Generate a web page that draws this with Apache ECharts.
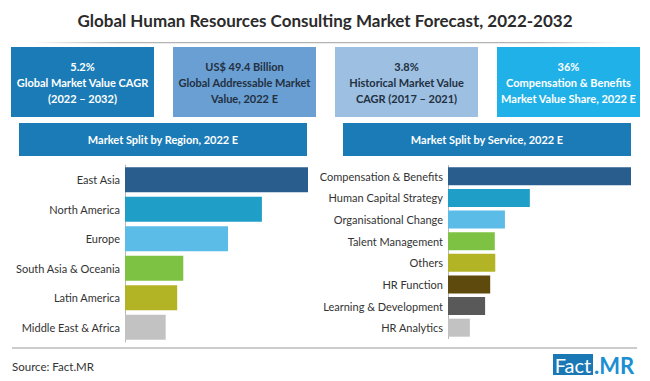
<!DOCTYPE html>
<html>
<head>
<meta charset="utf-8">
<script src="https://cdn.jsdelivr.net/npm/echarts@6/dist/echarts.min.js"></script>
<style>
html,body{margin:0;padding:0;background:#fff;}
#chart{width:650px;height:381px;}
</style>
</head>
<body>
<div id="chart"></div>
<script>
const chartTitle = 'Global Human Resources Consulting Market Forecast, 2022-2032';
const kpiTexts = [
  '5.2%\nGlobal Market Value CAGR\n(2022 – 2032)',
  'US$ 49.4 Billion\nGlobal Addressable Market\nValue, 2022 E',
  '3.8%\nHistorical Market Value\nCAGR (2017 – 2021)',
  '36%\nCompensation & Benefits\nMarket Value Share, 2022 E'
];
const panelTitles = ['Market Split by Region, 2022 E', 'Market Split by Service, 2022 E'];
const regionCategories = ['East Asia', 'North America', 'Europe', 'South Asia & Oceania', 'Latin America', 'Middle East & Africa'];
const regionValues = [27.0, 20.2, 15.2, 8.6, 7.7, 6.0];
const serviceCategories = ['Compensation & Benefits', 'Human Capital Strategy', 'Organisational Change', 'Talent Management', 'Others', 'HR Function', 'Learning & Development', 'HR Analytics'];
const serviceValues = [36.0, 16.1, 11.2, 9.2, 9.3, 8.3, 7.3, 4.3];
const sourceText = 'Source: Fact.MR';

const regionColors = ['#285d8e', '#1f9fc7', '#5bbce8', '#7dc243', '#b3b326', '#c2c2c2'];
const serviceColors = ['#285d8e', '#1f9fc7', '#5bbce8', '#7dc243', '#b3b326', '#5e4a0c', '#595959', '#c2c2c2'];
const kpiFill = ['#1a7bb6', '#6a9fd3', '#9dbfe2', '#1fb1e8'];
const kpiTextColor = ['#ffffff', '#22303f', '#22303f', '#ffffff'];

const chart = echarts.init(document.getElementById('chart'), null, {renderer: 'svg'});

const FONT = 'Lato, "Open Sans", sans-serif';
const graphics = [];
graphics.push({type: 'text', left: 'center', top: 12, style: {text: chartTitle, font: 'bold 17px ' + FONT, fill: '#2b2b2b'}});
graphics.push({type: 'rect', shape: {x: 30, y: 42, width: 590, height: 1.2},
  style: {fill: new echarts.graphic.LinearGradient(0, 0, 1, 0, [
    {offset: 0, color: 'rgba(160,160,160,0)'},
    {offset: 0.15, color: 'rgba(160,160,160,0.8)'},
    {offset: 0.85, color: 'rgba(160,160,160,0.8)'},
    {offset: 1, color: 'rgba(160,160,160,0)'}])}});
const kpiX = [11, 173, 335, 497];
kpiX.forEach((x, i) => {
  graphics.push({type: 'rect', shape: {x: x, y: 47, width: 143, height: 70}, style: {fill: kpiFill[i]}});
  graphics.push({type: 'text', x: x + 71.5, y: 82, style: {text: kpiTexts[i], font: 'bold 11px ' + FONT, fill: kpiTextColor[i], align: 'center', verticalAlign: 'middle', lineHeight: 16}});
});
[[19, 288], [343, 288]].forEach((p, i) => {
  graphics.push({type: 'rect', shape: {x: p[0], y: 123, width: p[1], height: 33}, style: {fill: '#1a7bb6'}});
  graphics.push({type: 'text', x: p[0] + p[1] / 2, y: 139.5, style: {text: panelTitles[i], font: 'bold 11px ' + FONT, fill: '#ffffff', align: 'center', verticalAlign: 'middle'}});
});
graphics.push({type: 'rect', shape: {x: 12, y: 347.5, width: 625, height: 1}, style: {fill: '#9a9a9a'}});
graphics.push({type: 'text', x: 12, y: 366.5, style: {text: sourceText, font: '11.5px ' + FONT, fill: '#333333', verticalAlign: 'middle'}});
graphics.push({type: 'rect', shape: {x: 553, y: 354, width: 40, height: 21}, style: {fill: '#1a79b5'}});
graphics.push({type: 'text', x: 573, y: 365, style: {text: 'Fact', font: '20px ' + FONT, fill: '#ffffff', align: 'center', verticalAlign: 'middle'}});
graphics.push({type: 'text', x: 594, y: 365, style: {text: '.MR', font: 'bold 22px ' + FONT, fill: '#1b8fd2', verticalAlign: 'middle'}});

function catAxis(idx, cats) {
  return {
    type: 'category', gridIndex: idx, data: cats, inverse: true,
    axisLine: {show: true, lineStyle: {color: '#b8b8b8', width: 1}},
    axisTick: {show: false},
    axisLabel: {color: '#333333', fontSize: 11, fontFamily: FONT, margin: 5}
  };
}
function valAxis(idx, max) {
  return {type: 'value', gridIndex: idx, min: 0, max: max, show: false, splitLine: {show: false}};
}

chart.setOption({
  animation: false,
  backgroundColor: '#ffffff',
  graphic: graphics,
  grid: [
    {left: 125, top: 165, width: 183, height: 177},
    {left: 448, top: 165.5, width: 183, height: 173}
  ],
  xAxis: [valAxis(0, regionValues[0]), valAxis(1, serviceValues[0])],
  yAxis: [catAxis(0, regionCategories), catAxis(1, serviceCategories)],
  series: [
    {type: 'bar', xAxisIndex: 0, yAxisIndex: 0, barWidth: 25,
     data: regionValues.map((v, i) => ({value: v, itemStyle: {color: regionColors[i]}}))},
    {type: 'bar', xAxisIndex: 1, yAxisIndex: 1, barWidth: 18,
     data: serviceValues.map((v, i) => ({value: v, itemStyle: {color: serviceColors[i]}}))}
  ]
});
</script>
</body>
</html>
